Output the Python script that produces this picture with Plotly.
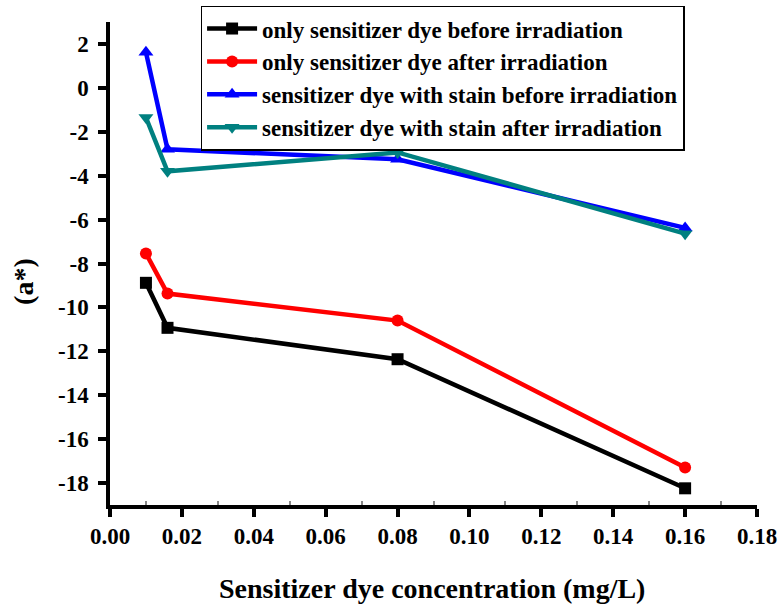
import plotly.graph_objects as go

conc = [0.01, 0.016, 0.08, 0.16]
only_before = [-8.88, -10.93, -12.36, -18.24]
only_after = [-7.54, -9.37, -10.6, -17.29]
stain_before = [1.62, -2.8, -3.25, -6.38]
stain_after = [-1.35, -3.8, -2.94, -6.64]

names = [
    "only sensitizer dye before irradiation",
    "only sensitizer dye after irradiation",
    "sensitizer dye with stain before irradiation",
    "sensitizer dye with stain after irradiation",
]
colors = ["#000000", "#ff0000", "#0000ff", "#008080"]
symbols = ["square", "circle", "triangle-up", "triangle-down"]
series = [only_before, only_after, stain_before, stain_after]

xticks = [0, 0.02, 0.04, 0.06, 0.08, 0.1, 0.12, 0.14, 0.16, 0.18]
xticklabels = ["0.00", "0.02", "0.04", "0.06", "0.08", "0.10", "0.12", "0.14", "0.16", "0.18"]
yticks = [2, 0, -2, -4, -6, -8, -10, -12, -14, -16, -18]
yticklabels = ["2", "0", "-2", "-4", "-6", "-8", "-10", "-12", "-14", "-16", "-18"]
xtitle = "Sensitizer dye concentration (mg/L)"
ytitle = "(a*)"

font = "Liberation Serif"

fig = go.Figure()
for n, c, s, y in zip(names, colors, symbols, series):
    fig.add_trace(go.Scatter(
        x=conc, y=y, name="<b>" + n + "</b>", mode="lines+markers",
        line=dict(color=c, width=4.5),
        marker=dict(symbol=s, size=13 if s.startswith("tri") else 12, color=c),
    ))

fig.update_layout(
    width=780, height=605,
    margin=dict(l=110, r=23, t=22, b=100, autoexpand=False),
    paper_bgcolor="white", plot_bgcolor="white",
    font=dict(family=font, color="black", size=23),
    showlegend=True,
    legend=dict(
        x=0.14, y=1.034, xanchor="left", yanchor="top",
        bordercolor="black", borderwidth=1.5, bgcolor="white",
        font=dict(family=font, size=23, color="black"),
        tracegroupgap=0, itemwidth=50,
    ),
    xaxis=dict(
        range=[0, 0.18], tickvals=xticks, automargin=False,
        ticktext=["<b>" + t + "</b>" for t in xticklabels],
        showline=True, linecolor="black", linewidth=3.5,
        ticks="outside", ticklen=8, tickwidth=3.5, tickcolor="black",
        showgrid=False, zeroline=False,
        tickfont=dict(family=font, size=23, color="black"),
        minor=dict(tickvals=[0.01, 0.03, 0.05, 0.07, 0.09, 0.11, 0.13, 0.15, 0.17],
                   ticks="inside", ticklen=4, tickwidth=1.5, tickcolor="#888888", showgrid=False),
    ),
    yaxis=dict(
        range=[-19, 3], tickvals=yticks, automargin=False,
        ticktext=["<b>" + t + "</b>" for t in yticklabels],
        showline=True, linecolor="black", linewidth=3.5,
        ticks="outside", ticklen=8, tickwidth=3.5, tickcolor="black",
        ticklabelstandoff=5,
        showgrid=False, zeroline=False,
        tickfont=dict(family=font, size=23, color="black"),
    ),
    annotations=[
        dict(text="<b>" + xtitle + "</b>", xref="paper", yref="paper",
             x=0.498, y=-0.172, xanchor="center", yanchor="middle", showarrow=False,
             font=dict(family=font, size=28, color="black")),
        dict(text="<b>" + ytitle + "</b>", xref="paper", yref="paper",
             x=(24 - 110) / 647, y=0.464, xanchor="center", yanchor="middle", showarrow=False,
             textangle=-90, font=dict(family=font, size=28, color="black")),
    ],
)

fig.write_html("out.html")
